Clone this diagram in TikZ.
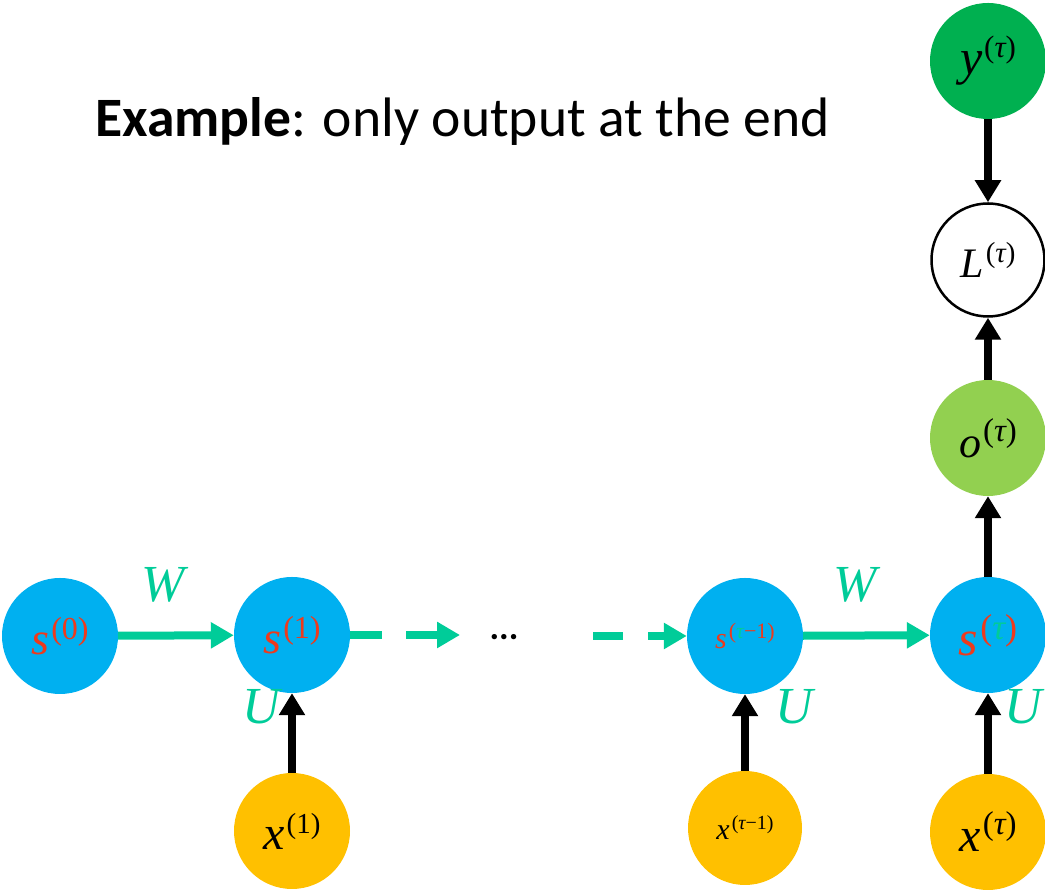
\documentclass[tikz,border=0pt]{standalone}
\usepackage{fontspec}
\setmainfont{Carlito}
\newfontfamily\tms{Liberation Serif}
\usetikzlibrary{arrows.meta}
\definecolor{sblue}{HTML}{00B0F0}
\definecolor{xorange}{HTML}{FFC000}
\definecolor{ygreen}{HTML}{00B050}
\definecolor{ogreen}{HTML}{92D050}
\definecolor{tealc}{HTML}{00CC99}
\definecolor{sred}{HTML}{EE3A1C}
% #1 base letter, #2 base size, #3 sup, #4 sup size, #5 raise
\newcommand{\mlab}[5]{{\tms\itshape\fontsize{#2}{#2}\selectfont #1}\kern2pt\raisebox{#5}{\tms\fontsize{#4}{#4}\selectfont #3}}
\newcommand{\tauc}{{\color{tealc}\itshape τ}}
\newcommand{\taub}{{\itshape τ}}
\tikzset{
  nd/.style={circle, minimum size=116pt, inner sep=0pt, draw=none},
  snode/.style={nd, fill=sblue, text=sred},
  xnode/.style={nd, fill=xorange, text=black},
  blk/.style={line width=8pt, draw=black, -{Triangle[width=25pt,length=22pt]}},
  grn/.style={line width=8pt, draw=tealc, -{Triangle[width=25pt,length=23pt]}},
  wlab/.style={text=tealc, font=\tms\itshape\fontsize{52}{52}\selectfont},
  ulab/.style={text=tealc, font=\tms\itshape\fontsize{52}{52}\selectfont},
}
\begin{document}
\begin{tikzpicture}[x=1pt,y=1pt]
\useasboundingbox (0,0) rectangle (1045,891);
\clip (0,0) rectangle (1045,891);
% title
\node[anchor=base west, inner sep=0pt, font=\fontsize{55.6}{60}\selectfont] (title) at (95,754) {\textbf{Example}: only output at the end};
% nodes
\node[snode] (s0) at (60,255) {\mlab{s}{46}{(0)}{32}{15pt}};
\node[snode] (s1) at (292,256) {\mlab{s}{46}{(1)}{32}{15pt}};
\node[snode] (sm) at (745,255) {\mlab{s}{30}{(\tauc−1)}{22}{10pt}};
\node[snode] (st) at (988,256) {\mlab{s}{50}{(\tauc)}{36}{16pt}};
\node[xnode] (x1) at (292,60) {\mlab{x}{48}{(1)}{29}{16pt}};
\node[xnode, minimum size=114pt] (xm) at (745,63) {\mlab{x}{30}{(\taub−1)}{20}{10pt}};
\node[xnode] (xt) at (988,59) {\mlab{x}{48}{(\taub)}{33}{17pt}};
\node[nd, fill=ogreen] (o) at (988,453) {\mlab{o}{44}{(\taub)}{33}{16pt}};
\node[nd, minimum size=113pt, draw=black, line width=2.5pt, fill=white] (L) at (988,631) {\mlab{L}{42}{(\taub)}{29}{15pt}};
\node[nd, fill=ygreen] (y) at (988,830) {\mlab{y}{50}{(\taub)}{31}{17pt}};
% ellipsis
\node[anchor=base, inner sep=0pt, font=\bfseries\fontsize{36}{36}\selectfont] (dots) at (504,251) {...};
\coordinate (d1) at (460,256);
\coordinate (d2) at (593,255);
% black arrows
\draw[blk] (y) -- (L);
\draw[blk] (o) -- (L);
\draw[blk] (st) -- (o);
\draw[blk] (x1) -- (s1);
\draw[blk] (xm) -- (sm);
\draw[blk] (xt) -- (st);
% green arrows
\draw[grn] (s0) -- (s1);
\draw[grn, dash pattern=on 32pt off 24pt on 200pt] (s1) -- (d1);
\draw[grn, dash pattern=on 30pt off 25pt on 200pt] (d2) -- (sm);
\draw[grn] (sm) -- (st);
% labels
\node[wlab] (w1) at (163,306) {W};
\node[wlab] (w2) at (855,306) {W};
\node[ulab] (u1) at (261,184) {U};
\node[ulab] (u2) at (794,184) {U};
\node[ulab] (u3) at (1023,184) {U};
\end{tikzpicture}
\end{document}
